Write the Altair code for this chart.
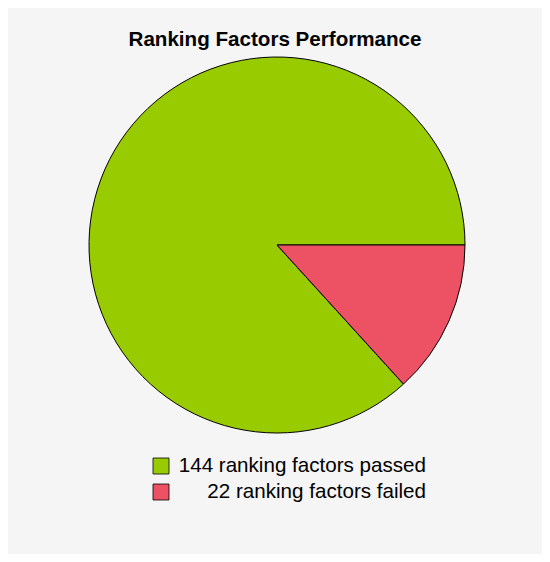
import math
import altair as alt
import pandas as pd

labels = ["144 ranking factors passed", "22 ranking factors failed"]
values = [144, 22]
colors = ["#99cc00", "#ec5264"]
slice_order = [2, 1]  # failed slice drawn first, starting at 3 o'clock
legend_row = [0, 1]

df = pd.DataFrame({"label": labels, "value": values, "ord": slice_order, "row": legend_row})

color_scale = alt.Scale(domain=labels, range=colors)

pie = alt.Chart(df).mark_arc(
    outerRadius=188, stroke="black", strokeWidth=1
).encode(
    theta=alt.Theta("value:Q", stack=True,
                    scale=alt.Scale(range=[math.pi / 2, math.pi / 2 + 2 * math.pi])),
    order=alt.Order("ord:Q"),
    color=alt.Color("label:N", scale=color_scale, legend=None),
    x=alt.value(269),
    y=alt.value(187),
)

row_scale = alt.Scale(domain=[0, 1], range=[408, 434])

legend_sq = alt.Chart(df).mark_square(
    size=256, stroke="black", strokeWidth=0.8, opacity=1
).encode(
    x=alt.value(153),
    y=alt.Y("row:Q", scale=row_scale, axis=None),
    color=alt.Color("label:N", scale=color_scale, legend=None),
)

legend_txt = alt.Chart(df).mark_text(
    align="right", baseline="middle", fontSize=20.6, font="Liberation Sans", color="black"
).encode(
    x=alt.value(418),
    y=alt.Y("row:Q", scale=row_scale, axis=None),
    text="label:N",
)

chart = alt.layer(pie, legend_sq, legend_txt).properties(
    width=534,
    height=496,
    padding={"left": 0, "top": 50, "right": 0, "bottom": 0},
    autosize=alt.AutoSizeParams(type="none"),
    background="#f5f5f5",
    title=alt.TitleParams(
        "Ranking Factors Performance",
        fontSize=20.6,
        font="Liberation Sans",
        fontWeight="bold",
        color="black",
        anchor="middle",
        offset=4,
    ),
).configure_view(stroke=None)

chart.save("out.html", embed_options={"renderer": "svg", "actions": False})
